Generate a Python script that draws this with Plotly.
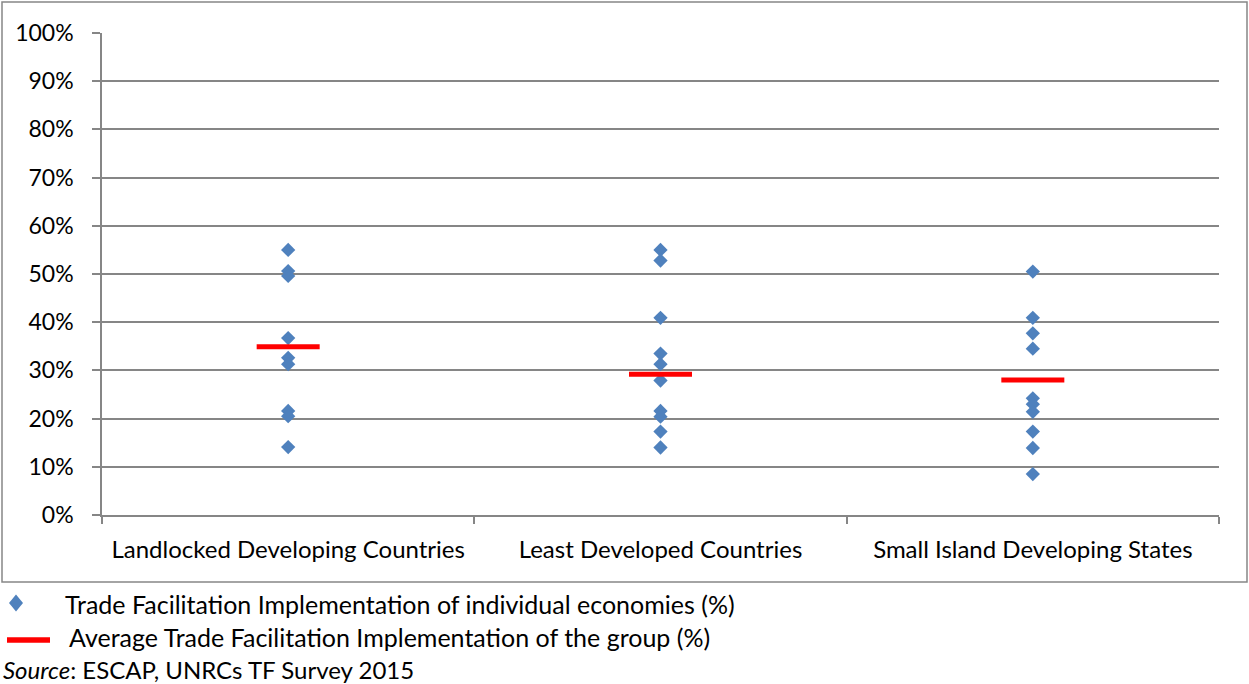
import plotly.graph_objects as go

categories = ["Landlocked Developing Countries", "Least Developed Countries", "Small Island Developing States"]

lldc_values = [0.550, 0.506, 0.496, 0.367, 0.326, 0.313, 0.216, 0.205, 0.141]
ldc_values = [0.550, 0.528, 0.409, 0.335, 0.313, 0.279, 0.216, 0.204, 0.173, 0.140]
sids_values = [0.505, 0.409, 0.377, 0.345, 0.242, 0.230, 0.214, 0.173, 0.139, 0.085]

group_averages = [0.349, 0.292, 0.280]

y_tick_values = [0, 0.1, 0.2, 0.3, 0.4, 0.5, 0.6, 0.7, 0.8, 0.9, 1.0]
y_tick_labels = ["0%", "10%", "20%", "30%", "40%", "50%", "60%", "70%", "80%", "90%", "100%"]

legend_labels = ["Trade Facilitation Implementation of individual economies (%)",
                 "Average Trade Facilitation Implementation of the group (%)"]
source_text = "<i>Source</i>: ESCAP, UNRCs TF Survey 2015"

W, H = 1249, 684
L, R, T, B = 102, 1219, 33, 515
PW, PH = R - L, B - T

def px(x):
    return (x - L) / PW

def py(y):
    return (B - y) / PH

FONT = "Lato"
BLUE = "#4F81BD"
GRAY = "#868686"

fig = go.Figure()

for cat, vals in zip(categories, [lldc_values, ldc_values, sids_values]):
    fig.add_trace(go.Scatter(
        x=[cat] * len(vals), y=vals, mode="markers",
        marker=dict(symbol="diamond", size=11, color=BLUE, line=dict(width=0)),
        showlegend=False, hoverinfo="y"))

fig.add_trace(go.Scatter(
    x=categories, y=group_averages, mode="markers",
    marker=dict(symbol="line-ew", size=45, color="#FF0000",
                line=dict(width=5, color="#FF0000")),
    showlegend=False, hoverinfo="y"))

shapes = [
    # outer chart frame
    dict(type="rect", xref="paper", yref="paper",
         x0=px(2), x1=px(1247), y0=py(582), y1=py(2),
         line=dict(color=GRAY, width=1.5), fillcolor="rgba(0,0,0,0)", layer="below"),
    # legend diamond
    dict(type="path", xref="paper", yref="paper",
         path=f"M {px(16)},{py(594.5)} L {px(23)},{py(603)} L {px(16)},{py(611.5)} L {px(9)},{py(603)} Z",
         fillcolor=BLUE, line=dict(width=0)),
    # legend red line
    dict(type="line", xref="paper", yref="paper",
         x0=px(7), x1=px(50), y0=py(640), y1=py(640),
         line=dict(color="#FF0000", width=5.5)),
]

LEG_SIZE = 25
annotations = [
    dict(text=legend_labels[0], xref="paper", yref="paper", x=px(63), y=py(604),
         xanchor="left", yanchor="middle", showarrow=False,
         font=dict(family=FONT, size=LEG_SIZE, color="#000000")),
    dict(text=legend_labels[1], xref="paper", yref="paper", x=px(67), y=py(637),
         xanchor="left", yanchor="middle", showarrow=False,
         font=dict(family=FONT, size=LEG_SIZE, color="#000000")),
    dict(text=source_text, xref="paper", yref="paper", x=px(1), y=py(669),
         xanchor="left", yanchor="middle", showarrow=False,
         font=dict(family=FONT, size=24, color="#000000")),
]

fig.update_layout(
    width=W, height=H,
    margin=dict(l=L, r=W - R, t=T, b=H - B, pad=0),
    paper_bgcolor="white", plot_bgcolor="white",
    font=dict(family=FONT, size=20, color="#000000"),
    shapes=shapes, annotations=annotations,
    showlegend=False,
    xaxis=dict(
        type="category", categoryorder="array", categoryarray=categories,
        range=[-0.5, 2.5], tickson="boundaries", ticks="outside", ticklen=7,
        tickcolor=GRAY, tickwidth=1.5, showgrid=False, showline=True,
        linecolor=GRAY, linewidth=1.5, zeroline=False,
        tickfont=dict(family=FONT, size=24, color="#000000"), ticklabelstandoff=12),
    yaxis=dict(
        range=[0, 1], tickvals=y_tick_values, ticktext=y_tick_labels,
        ticks="outside", ticklen=8, tickcolor=GRAY, tickwidth=1.5,
        showgrid=True, gridcolor=GRAY, gridwidth=1.5,
        showline=True, linecolor=GRAY, linewidth=1.5, zeroline=False,
        tickfont=dict(family=FONT, size=23, color="#000000"), ticklabelstandoff=14),
)

fig.write_html("out.html",
               config={"displayModeBar": False},
               post_script="document.body.style.margin='0';document.body.style.overflow='hidden';")
